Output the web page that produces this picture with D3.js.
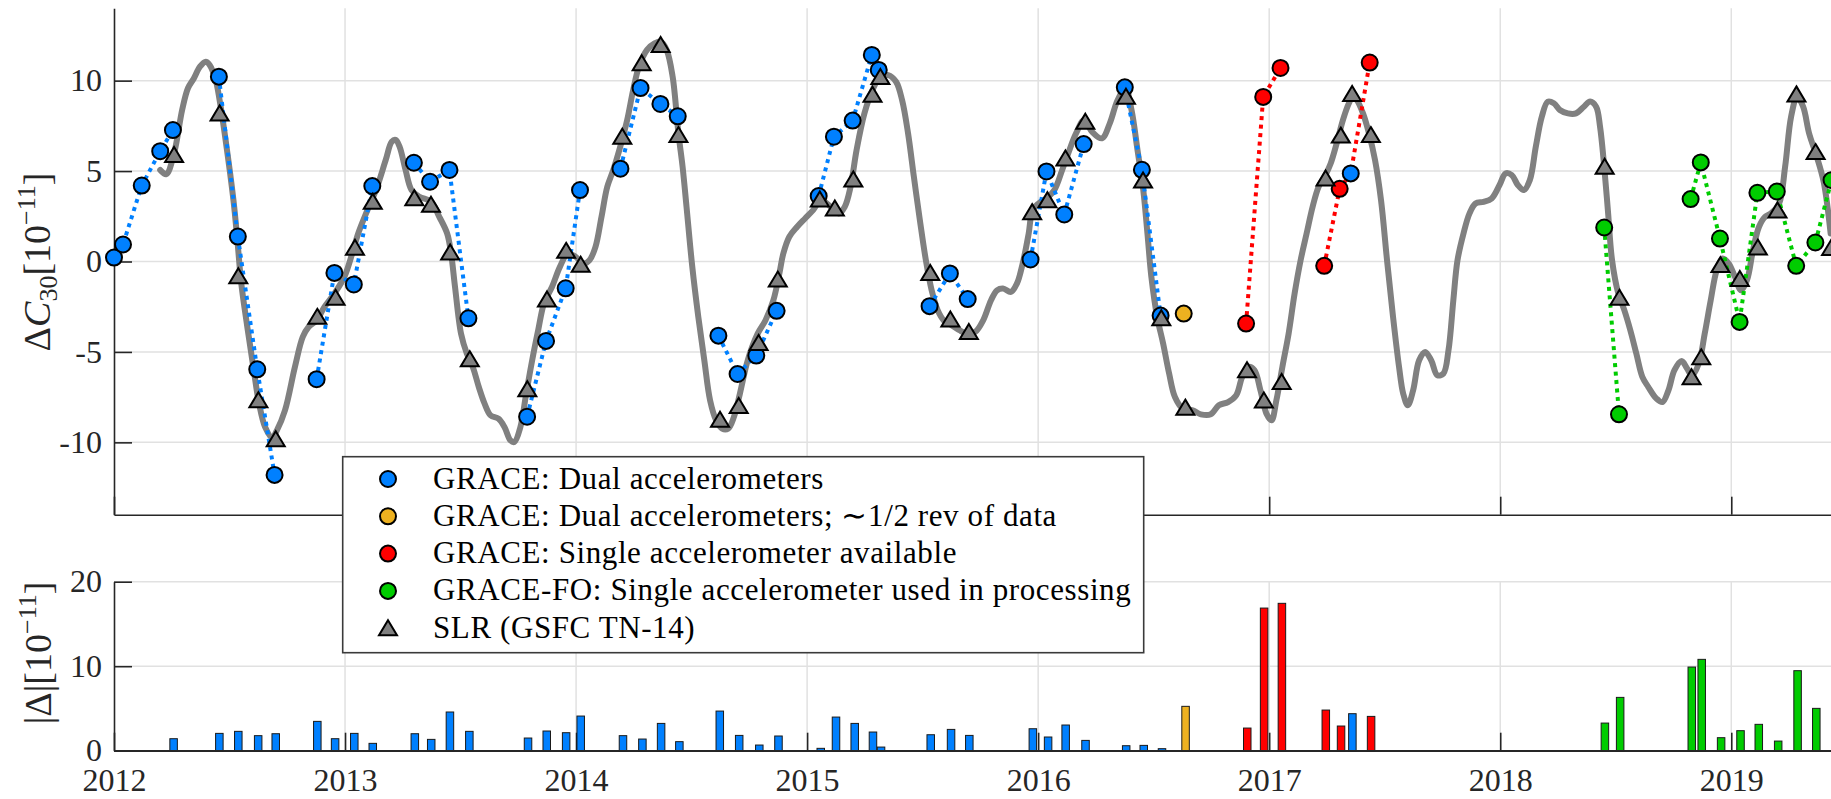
<!DOCTYPE html>
<html>
<head>
<meta charset="utf-8">
<script src="https://cdn.jsdelivr.net/npm/d3@7"></script>
<style>
  html, body { margin: 0; padding: 0; background: #ffffff; }
  svg { display: block; font-family: "Liberation Serif", "Times New Roman", serif; }
</style>
</head>
<body>
<svg id="chart" width="1831" height="799"></svg>
<script>
// ---- tick values ----
const yearTicks = [2012, 2013, 2014, 2015, 2016, 2017, 2018, 2019];
const c30Ticks = [-10, -5, 0, 5, 10];
const diffTicks = [0, 10, 20];

// ---- SLR (GSFC TN-14) weekly C30 series, [decimal year, 1e-11] ----
const slrWeekly = [
  [2012.200, 5.06], [2012.226, 4.83], [2012.260, 5.98], [2012.295, 8.38], [2012.320, 9.58],
  [2012.346, 10.13], [2012.372, 10.77], [2012.397, 11.05], [2012.414, 10.87], [2012.440, 10.04],
  [2012.457, 8.93], [2012.483, 6.72], [2012.517, 3.39], [2012.534, 1.18], [2012.551, -1.22],
  [2012.577, -3.62], [2012.603, -5.83], [2012.628, -7.86], [2012.654, -9.15], [2012.685, -9.74],
  [2012.705, -9.34], [2012.740, -8.23], [2012.783, -5.83], [2012.817, -4.17], [2012.842, -3.62],
  [2012.877, -3.25], [2012.911, -2.51], [2012.954, -1.77], [2012.997, -0.85], [2013.031, 0.44],
  [2013.057, 1.55], [2013.091, 2.66], [2013.134, 3.95], [2013.176, 5.61], [2013.202, 6.62],
  [2013.219, 6.72], [2013.236, 6.35], [2013.262, 5.06], [2013.288, 3.95], [2013.322, 3.58],
  [2013.373, 3.30], [2013.408, 2.47], [2013.442, 1.55], [2013.459, 0.44], [2013.476, -1.40],
  [2013.502, -3.99], [2013.527, -5.09], [2013.553, -5.83], [2013.579, -6.94], [2013.604, -7.86],
  [2013.630, -8.51], [2013.664, -8.69], [2013.690, -9.15], [2013.716, -9.89], [2013.733, -9.98],
  [2013.759, -9.15], [2013.784, -7.31], [2013.810, -5.46], [2013.836, -3.80], [2013.861, -2.32],
  [2013.896, -1.40], [2013.930, -0.30], [2013.964, 0.44], [2013.998, 0.26], [2014.033, -0.11],
  [2014.058, 0.07], [2014.084, 0.81], [2014.110, 2.47], [2014.135, 4.13], [2014.161, 5.06],
  [2014.187, 6.16], [2014.221, 7.82], [2014.247, 9.48], [2014.272, 10.77], [2014.307, 11.70],
  [2014.341, 12.07], [2014.366, 12.16], [2014.392, 11.70], [2014.418, 10.22], [2014.443, 7.08],
  [2014.461, 5.24], [2014.478, 3.03], [2014.503, -0.30], [2014.529, -3.06], [2014.555, -5.46],
  [2014.580, -7.68], [2014.606, -8.78], [2014.632, -9.24], [2014.658, -9.24], [2014.683, -8.60],
  [2014.709, -7.31], [2014.743, -5.46], [2014.786, -3.99], [2014.820, -3.25], [2014.854, -2.14],
  [2014.880, -0.66], [2014.897, 0.44], [2014.923, 1.37], [2014.957, 1.92], [2014.991, 2.38],
  [2015.026, 2.84], [2015.060, 3.39], [2015.094, 3.12], [2015.137, 2.66], [2015.163, 3.03],
  [2015.188, 4.13], [2015.214, 6.16], [2015.248, 8.19], [2015.283, 9.48], [2015.317, 10.22],
  [2015.351, 10.31], [2015.385, 9.94], [2015.411, 8.93], [2015.437, 7.08], [2015.462, 4.69],
  [2015.488, 2.29], [2015.514, 0.07], [2015.539, -1.59], [2015.565, -2.69], [2015.591, -3.25],
  [2015.625, -3.52], [2015.659, -3.80], [2015.693, -3.99], [2015.728, -3.89], [2015.762, -3.25],
  [2015.796, -2.14], [2015.822, -1.59], [2015.848, -1.49], [2015.882, -1.68], [2015.908, -1.22],
  [2015.933, -0.11], [2015.959, 1.55], [2015.976, 2.84], [2016.002, 3.21], [2016.036, 3.49],
  [2016.070, 3.95], [2016.104, 5.06], [2016.130, 5.98], [2016.164, 7.08], [2016.199, 7.82],
  [2016.233, 7.18], [2016.276, 6.81], [2016.310, 7.64], [2016.344, 8.93], [2016.378, 9.58],
  [2016.404, 8.38], [2016.430, 6.16], [2016.455, 3.95], [2016.473, 1.55], [2016.490, -0.85],
  [2016.515, -3.06], [2016.541, -4.54], [2016.567, -6.20], [2016.592, -7.49], [2016.627, -8.14],
  [2016.669, -8.23], [2016.704, -8.45], [2016.747, -8.45], [2016.782, -7.95], [2016.822, -7.77],
  [2016.857, -7.40], [2016.883, -6.38], [2016.909, -5.83], [2016.936, -6.01], [2016.962, -7.12],
  [2016.988, -8.41], [2017.010, -8.78], [2017.031, -7.68], [2017.057, -5.83], [2017.084, -3.99],
  [2017.110, -1.77], [2017.136, 0.07], [2017.162, 1.55], [2017.188, 3.03], [2017.214, 4.13],
  [2017.240, 4.69], [2017.266, 5.42], [2017.292, 6.53], [2017.319, 7.82], [2017.345, 8.75],
  [2017.362, 9.11], [2017.379, 8.93], [2017.406, 8.19], [2017.432, 7.08], [2017.458, 5.61],
  [2017.484, 3.39], [2017.510, 0.07], [2017.536, -3.06], [2017.562, -5.83], [2017.580, -7.31],
  [2017.600, -7.95], [2017.623, -7.12], [2017.649, -5.46], [2017.675, -5.00], [2017.701, -5.46],
  [2017.728, -6.29], [2017.754, -6.20], [2017.776, -4.91], [2017.797, -2.14], [2017.815, 0.07],
  [2017.841, 1.55], [2017.867, 2.66], [2017.893, 3.21], [2017.928, 3.30], [2017.963, 3.49],
  [2017.997, 4.23], [2018.023, 4.87], [2018.050, 4.78], [2018.076, 4.23], [2018.102, 3.95],
  [2018.128, 4.50], [2018.154, 6.35], [2018.180, 8.01], [2018.206, 8.84], [2018.232, 8.75],
  [2018.258, 8.38], [2018.293, 8.19], [2018.328, 8.19], [2018.362, 8.56], [2018.389, 8.84],
  [2018.415, 8.56], [2018.432, 7.45], [2018.450, 5.24], [2018.467, 2.66], [2018.484, 0.07],
  [2018.511, -1.77], [2018.537, -2.69], [2018.563, -3.80], [2018.589, -5.09], [2018.615, -6.38],
  [2018.641, -6.94], [2018.676, -7.58], [2018.702, -7.77], [2018.728, -7.12], [2018.754, -6.01],
  [2018.785, -5.50], [2018.808, -5.90], [2018.830, -6.30], [2018.859, -5.65], [2018.885, -3.99],
  [2018.911, -2.14], [2018.937, -0.48], [2018.963, 0.17], [2018.989, -0.11], [2019.016, -0.85],
  [2019.042, -1.59], [2019.068, -1.03], [2019.094, 0.63], [2019.120, 1.92], [2019.146, 2.47],
  [2019.172, 2.66], [2019.207, 3.21], [2019.233, 5.24], [2019.259, 8.01], [2019.285, 9.11],
  [2019.311, 8.56], [2019.337, 7.08], [2019.370, 5.80], [2019.400, 4.40], [2019.430, 1.55]
];

// ---- SLR monthly values ----
const slrMonthly = [
  [2012.260, 5.89], [2012.457, 8.19], [2012.538, -0.81], [2012.625, -7.67], [2012.700, -9.83],
  [2012.880, -3.06], [2012.959, -2.01], [2013.043, 0.76], [2013.120, 3.30], [2013.300, 3.50],
  [2013.372, 3.14], [2013.455, 0.50], [2013.540, -5.40], [2013.789, -7.06], [2013.874, -2.10],
  [2013.957, 0.59], [2014.020, -0.18], [2014.200, 6.90], [2014.284, 10.96], [2014.366, 11.97],
  [2014.443, 6.99], [2014.623, -8.75], [2014.704, -7.99], [2014.790, -4.50], [2014.873, -1.00],
  [2015.055, 3.43], [2015.120, 2.93], [2015.200, 4.54], [2015.283, 9.22], [2015.317, 10.20],
  [2015.533, -0.63], [2015.620, -3.21], [2015.700, -3.90], [2015.974, 2.73], [2016.040, 3.39],
  [2016.118, 5.70], [2016.204, 7.73], [2016.380, 9.11], [2016.454, 4.48], [2016.533, -3.14],
  [2016.637, -8.08], [2016.904, -6.01], [2016.977, -7.68], [2017.054, -6.66], [2017.244, 4.59],
  [2017.310, 6.96], [2017.359, 9.26], [2017.440, 6.99], [2018.452, 5.24], [2018.516, -2.01],
  [2018.828, -6.40], [2018.870, -5.30], [2018.953, -0.20], [2019.037, -0.97], [2019.115, 0.77],
  [2019.200, 2.82], [2019.282, 9.24], [2019.365, 6.05], [2019.432, 0.75]
];

// ---- GRACE / GRACE-FO monthly C30 ----
const graceDual = [
  [2012.000, 0.22], [2012.039, 0.94], [2012.120, 4.20], [2012.200, 6.10], [2012.255, 7.27],
  [2012.454, 10.22], [2012.536, 1.38], [2012.620, -5.96], [2012.695, -11.80],
  [2012.877, -6.51], [2012.954, -0.63], [2013.038, -1.27], [2013.118, 4.17],
  [2013.298, 5.46], [2013.368, 4.41], [2013.452, 5.06], [2013.534, -3.14],
  [2013.788, -8.58], [2013.870, -4.39], [2013.955, -1.48], [2014.017, 3.95],
  [2014.192, 5.13], [2014.279, 9.59], [2014.365, 8.71], [2014.440, 8.03],
  [2014.616, -4.10], [2014.699, -6.22], [2014.780, -5.20], [2014.868, -2.73],
  [2015.050, 3.62], [2015.116, 6.90], [2015.197, 7.79], [2015.280, 11.42], [2015.310, 10.59],
  [2015.530, -2.47], [2015.618, -0.66], [2015.695, -2.08],
  [2015.967, 0.11], [2016.036, 4.98], [2016.113, 2.60], [2016.197, 6.49],
  [2016.375, 9.63], [2016.449, 5.07], [2016.530, -2.99],
  [2017.353, 4.87]
];
const graceHalfRev = [[2016.630, -2.88]];
const graceSingle = [
  [2016.900, -3.43], [2016.974, 9.10], [2017.049, 10.70],
  [2017.238, -0.24], [2017.305, 4.02], [2017.435, 11.00]
];
const graceFO = [
  [2018.450, 1.88], [2018.514, -8.45],
  [2018.824, 3.45], [2018.868, 5.48], [2018.951, 1.27], [2019.036, -3.34],
  [2019.113, 3.80], [2019.197, 3.87], [2019.281, -0.24], [2019.364, 1.05], [2019.434, 4.50]
];

// ---- |GRACE - SLR| ----
const diffDual = [
  [2012.258, 1.42], [2012.456, 2.05], [2012.538, 2.29], [2012.624, 1.78], [2012.700, 2.01],
  [2012.880, 3.47], [2012.957, 1.42], [2013.040, 2.05], [2013.120, 0.87], [2013.302, 2.01],
  [2013.373, 1.34], [2013.454, 4.58], [2013.538, 2.29], [2013.792, 1.50], [2013.873, 2.33],
  [2013.957, 2.13], [2014.020, 4.10], [2014.203, 1.78], [2014.287, 1.38], [2014.368, 3.23],
  [2014.447, 1.07], [2014.622, 4.69], [2014.706, 1.81], [2014.793, 0.67], [2014.876, 1.74],
  [2015.059, 0.28], [2015.125, 3.98], [2015.206, 3.23], [2015.285, 2.21], [2015.320, 0.43],
  [2015.535, 1.89], [2015.623, 2.52], [2015.702, 1.81], [2015.977, 2.60], [2016.043, 1.62],
  [2016.119, 3.04], [2016.205, 1.22], [2016.381, 0.59], [2016.457, 0.63], [2016.536, 0.24],
  [2017.360, 4.38]
];
const diffHalfRev = [[2016.638, 5.25]];
const diffSingle = [
  [2016.905, 2.68], [2016.978, 16.88], [2017.055, 17.44],
  [2017.245, 4.81], [2017.311, 2.92], [2017.441, 4.06]
];
const diffFO = [
  [2018.453, 3.27], [2018.519, 6.31], [2018.829, 9.90], [2018.872, 10.81], [2018.956, 1.54],
  [2019.040, 2.37], [2019.119, 3.12], [2019.203, 1.14], [2019.287, 9.47], [2019.368, 5.01]
];

const legendLabels = [
  "GRACE: Dual accelerometers",
  "GRACE: Dual accelerometers; \u223C1/2 rev of data",
  "GRACE: Single accelerometer available",
  "GRACE-FO: Single accelerometer used in processing",
  "SLR (GSFC TN-14)"
];

// ---- styling ----
const COL = {
  dual: "#0080ff", half: "#edb120", single: "#ff0000", fo: "#00cc00",
  slr: "#808080", axis: "#262626", grid: "#e1e1e1"
};
const FONT = "'Liberation Serif', 'Times New Roman', serif";

const svg = d3.select("#chart");

const x = d3.scaleLinear().domain([2012, 2020]).range([114, 114 + 8 * 231.04]);
const yTop = d3.scaleLinear().domain([-14, 14]).range([514.7, 8.3]);
const yBot = d3.scaleLinear().domain([0, 20]).range([750.7, 581.7]);

// ---- grid ----
function grid(g, yScale, yTicks, yDomain) {
  g.selectAll(".gh").data(yTicks.filter(v => v !== yDomain[0])).join("line")
    .attr("x1", x(2012)).attr("x2", 1831)
    .attr("y1", d => yScale(d)).attr("y2", d => yScale(d))
    .attr("stroke", COL.grid).attr("stroke-width", 1.5);
  g.selectAll(".gv").data(yearTicks.slice(1)).join("line")
    .attr("x1", d => x(d)).attr("x2", d => x(d))
    .attr("y1", yScale(yDomain[0])).attr("y2", yScale(yDomain[1]))
    .attr("stroke", COL.grid).attr("stroke-width", 1.5);
}
grid(svg.append("g"), yTop, c30Ticks, [-14, 14]);
grid(svg.append("g"), yBot, [10, 20], [0, 20]);

// ---- axes ----
function styleAxis(g) {
  g.attr("font-family", FONT);
  g.selectAll("path.domain").attr("stroke", COL.axis).attr("stroke-width", 1.6);
  g.selectAll(".tick line").attr("stroke", COL.axis).attr("stroke-width", 1.6);
  g.selectAll(".tick text").attr("fill", COL.axis)
    .style("font-family", FONT).style("font-size", "32px");
}

svg.append("g").attr("transform", `translate(${x(2012)},0)`)
  .call(d3.axisLeft(yTop).tickValues(c30Ticks).tickSize(-18).tickSizeOuter(0)
    .tickPadding(12).tickFormat(d => String(d)))
  .call(styleAxis);
svg.append("g").attr("transform", `translate(0,${yTop(-14)})`)
  .call(d3.axisBottom(x).tickValues(yearTicks).tickSize(-18).tickSizeOuter(0)
    .tickFormat(() => ""))
  .call(styleAxis);

svg.append("g").attr("transform", `translate(${x(2012)},0)`)
  .call(d3.axisLeft(yBot).tickValues(diffTicks).tickSize(-18).tickSizeOuter(0)
    .tickPadding(12).tickFormat(d => String(d)))
  .call(styleAxis);
svg.append("g").attr("transform", `translate(0,${yBot(0)})`)
  .call(d3.axisBottom(x).tickValues(yearTicks).tickSize(-18).tickSizeOuter(0)
    .tickPadding(18).tickFormat(d3.format("d")))
  .call(styleAxis);

// ---- axis titles (rotated, centred on a given point by measured length) ----
function axisTitle(cx, baseX, parts) {
  const t = svg.append("text").attr("fill", COL.axis)
    .style("font-family", FONT).style("font-size", "38px");
  parts.forEach(p => {
    const s = t.append("tspan").text(p.text);
    if (p.size) s.attr("font-size", p.size);
    if (p.dy) s.attr("dy", p.dy);
    if (p.italic) s.attr("font-style", "italic");
  });
  const len = t.node().getComputedTextLength();
  t.attr("transform", `translate(${baseX},${cx + len / 2}) rotate(-90)`);
}
axisTitle(262, 49.5, [
  { text: "\u0394" }, { text: "C", italic: true },
  { text: "30", size: "26px", dy: 7 }, { text: "[10", dy: -7 },
  { text: "\u221211", size: "26px", dy: -15 }, { text: "]", dy: 15 }
]);
axisTitle(653, 51, [
  { text: "|\u0394|[10" }, { text: "\u221211", size: "26px", dy: -15 }, { text: "]", dy: 15 }
]);

// ---- bars ----
const barW = x(2012.0325) - x(2012);
[[diffDual, COL.dual], [diffHalfRev, COL.half], [diffSingle, COL.single], [diffFO, COL.fo]]
  .forEach(([data, color]) => {
    svg.append("g").selectAll("rect").data(data).join("rect")
      .attr("x", d => x(d[0]) - barW / 2).attr("width", barW)
      .attr("y", d => yBot(d[1])).attr("height", d => yBot(0) - yBot(d[1]))
      .attr("fill", color).attr("stroke", "#1a1a1a").attr("stroke-width", 1);
  });
// baseline drawn over the bars
svg.append("line").attr("x1", x(2012)).attr("x2", 1831)
  .attr("y1", yBot(0)).attr("y2", yBot(0))
  .attr("stroke", COL.axis).attr("stroke-width", 1.6);

// ---- SLR weekly curve ----
const line = d3.line().x(d => x(d[0])).y(d => yTop(d[1])).curve(d3.curveCatmullRom.alpha(0.5));
svg.append("path").datum(slrWeekly).attr("d", line)
  .attr("fill", "none").attr("stroke", COL.slr).attr("stroke-width", 6)
  .attr("stroke-linejoin", "round").attr("stroke-linecap", "round");

// ---- dotted connectors between consecutive months ----
function runs(points, maxGap) {
  const out = []; let cur = [];
  points.forEach((p, i) => {
    if (i > 0 && p[0] - points[i - 1][0] > maxGap) { out.push(cur); cur = []; }
    cur.push(p);
  });
  if (cur.length) out.push(cur);
  return out.filter(r => r.length > 1);
}
const singleStart = d3.min(graceSingle, d => d[0]);
const singleEnd = d3.max(graceSingle, d => d[0]);
const inSingle = p => p[0] >= singleStart && p[0] <= singleEnd;
const singlePath = graceSingle.concat(graceDual.filter(inSingle)).sort((a, b) => a[0] - b[0]);
const dualPath = graceDual.filter(p => !inSingle(p));
const straight = d3.line().x(d => x(d[0])).y(d => yTop(d[1]));
[[dualPath, COL.dual], [singlePath, COL.single], [graceFO, COL.fo]].forEach(([pts, color]) => {
  svg.append("g").selectAll("path").data(runs(pts, 0.13)).join("path")
    .attr("d", straight).attr("fill", "none").attr("stroke", color)
    .attr("stroke-width", 4).attr("stroke-dasharray", "4 4.5");
});

// ---- markers ----
const R = 8;
function circles(data, color) {
  svg.append("g").selectAll("circle").data(data).join("circle")
    .attr("cx", d => x(d[0])).attr("cy", d => yTop(d[1])).attr("r", R)
    .attr("fill", color).attr("stroke", "#000").attr("stroke-width", 2);
}
circles(graceDual, COL.dual);
circles(graceHalfRev, COL.half);
circles(graceSingle, COL.single);
circles(graceFO, COL.fo);

const tri = "M0,-8 L9,7 L-9,7 Z";
svg.append("g").selectAll("path").data(slrMonthly).join("path")
  .attr("d", tri).attr("transform", d => `translate(${x(d[0])},${yTop(d[1])})`)
  .attr("fill", COL.slr).attr("stroke", "#000").attr("stroke-width", 2).attr("stroke-linejoin", "miter");

// ---- legend ----
const lg = svg.append("g");
lg.append("rect").attr("x", 342.7).attr("y", 456.7).attr("width", 801).attr("height", 196)
  .attr("fill", "#fff").attr("stroke", "#3a3a3a").attr("stroke-width", 1.6);
const legendColors = [COL.dual, COL.half, COL.single, COL.fo, null];
legendLabels.forEach((label, i) => {
  const cy = 479 + i * 37.3;
  if (legendColors[i]) {
    lg.append("circle").attr("cx", 388).attr("cy", cy).attr("r", R)
      .attr("fill", legendColors[i]).attr("stroke", "#000").attr("stroke-width", 2);
  } else {
    lg.append("path").attr("d", tri).attr("transform", `translate(388,${cy})`)
      .attr("fill", COL.slr).attr("stroke", "#000").attr("stroke-width", 2);
  }
  lg.append("text").attr("x", 433).attr("y", cy + 9.5)
    .attr("fill", "#000").style("font-family", FONT)
    .style("font-size", "31px").style("letter-spacing", "0.6px")
    .text(label);
});
</script>
</body>
</html>
